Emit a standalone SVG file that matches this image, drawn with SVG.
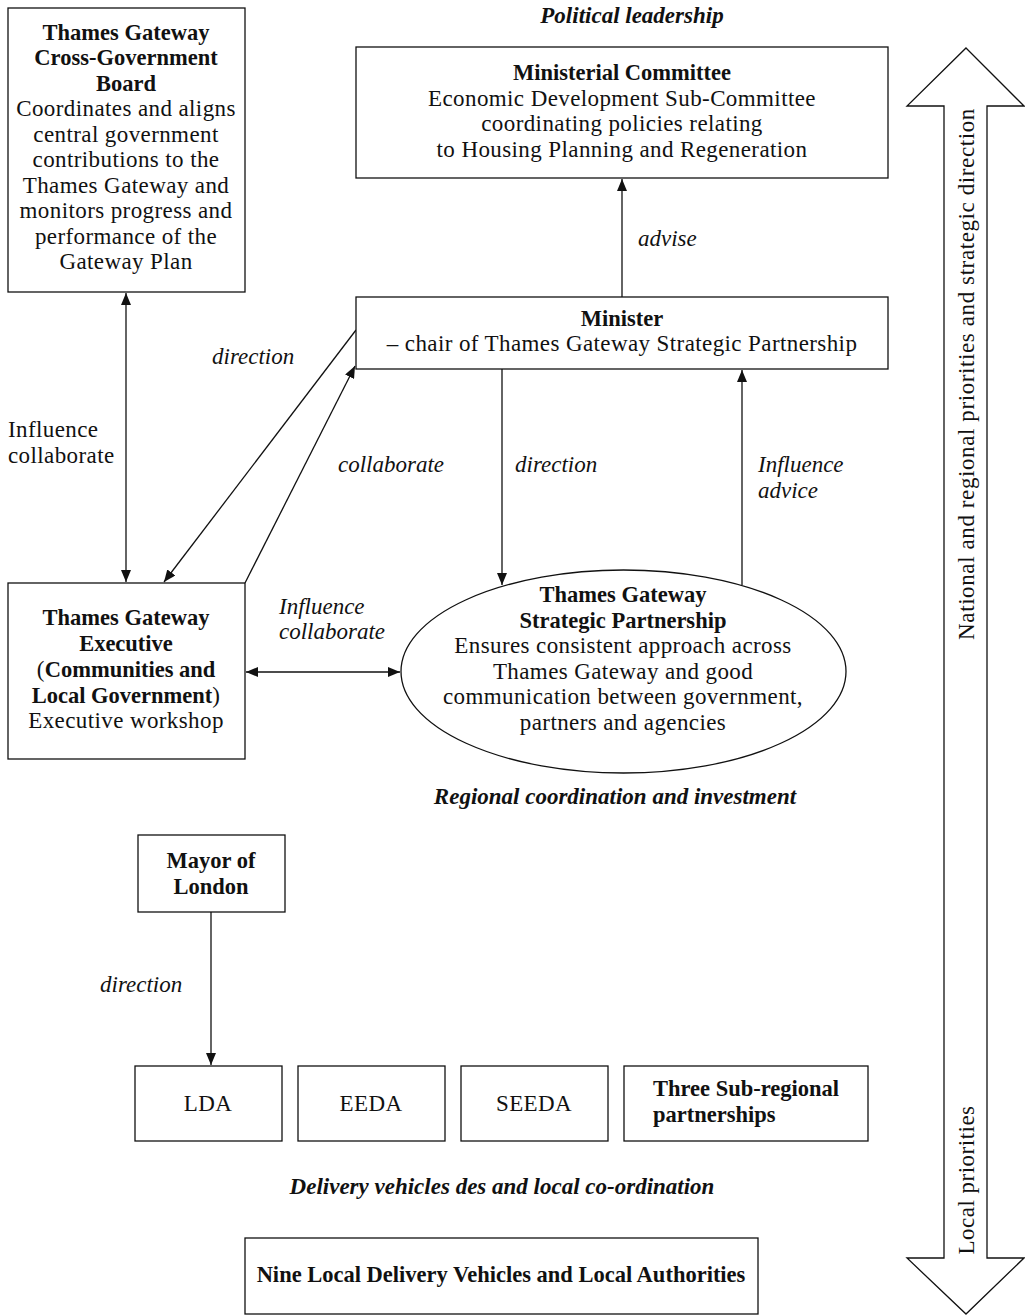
<svg xmlns="http://www.w3.org/2000/svg" width="1025" height="1315" viewBox="0 0 1025 1315">
<style>
text{font-family:"Liberation Serif","Times New Roman",serif;font-size:23px;letter-spacing:0.4px;fill:#111;}
.c{text-anchor:middle;}
.b{font-weight:bold;font-size:22.5px;letter-spacing:0;}
.i{font-style:italic;letter-spacing:0;}
.bi{font-weight:bold;font-style:italic;letter-spacing:0;}
.box{fill:#fff;stroke:#111;stroke-width:1.3;}
.ln{fill:none;stroke:#111;stroke-width:1.3;}
</style>
<defs>
<marker id="ah" viewBox="0 0 12 10" refX="12" refY="5" markerWidth="12" markerHeight="10" markerUnits="userSpaceOnUse" orient="auto-start-reverse">
<path d="M0,0 L12,5 L0,10 z" fill="#111"/>
</marker>
</defs>
<rect width="1025" height="1315" fill="#fff"/>

<g id="connectors">
<line class="ln" x1="622" y1="297" x2="622" y2="179" marker-end="url(#ah)"/>
<line class="ln" x1="126" y1="293" x2="126" y2="582" marker-start="url(#ah)" marker-end="url(#ah)"/>
<line class="ln" x1="356" y1="330" x2="164" y2="582" marker-end="url(#ah)"/>
<line class="ln" x1="245" y1="583" x2="355" y2="366" marker-end="url(#ah)"/>
<line class="ln" x1="502" y1="369" x2="502" y2="585" marker-end="url(#ah)"/>
<line class="ln" x1="742" y1="585" x2="742" y2="370" marker-end="url(#ah)"/>
<line class="ln" x1="246" y1="672" x2="400" y2="672" marker-start="url(#ah)" marker-end="url(#ah)"/>
<line class="ln" x1="211" y1="912" x2="211" y2="1065" marker-end="url(#ah)"/>
<text class="i" x="638" y="246">advise</text>
<text x="8" y="437">Influence</text>
<text x="8" y="463">collaborate</text>
<text class="i" x="212" y="364">direction</text>
<text class="i" x="338" y="472">collaborate</text>
<text class="i" x="515" y="472">direction</text>
<text class="i" x="758" y="472">Influence</text>
<text class="i" x="758" y="498">advice</text>
<text class="i" x="279" y="614">Influence</text>
<text class="i" x="279" y="639">collaborate</text>
<text class="i" x="100" y="992">direction</text>
</g>

<g id="labels">
<text class="c bi" x="632" y="23">Political leadership</text>
<text class="c bi" x="615" y="804">Regional coordination and investment</text>
<text class="c bi" x="502" y="1194">Delivery vehicles des and local co-ordination</text>
</g>

<g id="board">
<rect class="box" x="8" y="8" width="237" height="284"/>
<text class="c b" x="126" y="40">Thames Gateway</text>
<text class="c b" x="126" y="65">Cross-Government</text>
<text class="c b" x="126" y="91">Board</text>
<text class="c" x="126" y="116">Coordinates and aligns</text>
<text class="c" x="126" y="142">central government</text>
<text class="c" x="126" y="167">contributions to the</text>
<text class="c" x="126" y="193">Thames Gateway and</text>
<text class="c" x="126" y="218">monitors progress and</text>
<text class="c" x="126" y="244">performance of the</text>
<text class="c" x="126" y="269">Gateway Plan</text>
</g>

<g id="ministerial-committee">
<rect class="box" x="356" y="47" width="532" height="131"/>
<text class="c b" x="622" y="80">Ministerial Committee</text>
<text class="c" x="622" y="106">Economic Development Sub-Committee</text>
<text class="c" x="622" y="131">coordinating policies relating</text>
<text class="c" x="622" y="157">to Housing Planning and Regeneration</text>
</g>

<g id="minister">
<rect class="box" x="356" y="297" width="532" height="72"/>
<text class="c b" x="622" y="326">Minister</text>
<text class="c" x="622" y="351">– chair of Thames Gateway Strategic Partnership</text>
</g>

<g id="executive">
<rect class="box" x="8" y="583" width="237" height="176"/>
<text class="c b" x="126" y="625">Thames Gateway</text>
<text class="c b" x="126" y="651">Executive</text>
<text class="c" x="126" y="677">(<tspan class="b">Communities and</tspan></text>
<text class="c" x="126" y="703"><tspan class="b">Local Government</tspan>)</text>
<text class="c" x="126" y="728">Executive workshop</text>
</g>

<g id="partnership">
<ellipse class="box" cx="623.5" cy="671.5" rx="222.5" ry="101.5"/>
<text class="c b" x="623" y="602">Thames Gateway</text>
<text class="c b" x="623" y="628">Strategic Partnership</text>
<text class="c" x="623" y="653">Ensures consistent approach across</text>
<text class="c" x="623" y="679">Thames Gateway and good</text>
<text class="c" x="623" y="704">communication between government,</text>
<text class="c" x="623" y="730">partners and agencies</text>
</g>

<g id="mayor">
<rect class="box" x="138" y="835" width="147" height="77"/>
<text class="c b" x="211" y="868">Mayor of</text>
<text class="c b" x="211" y="894">London</text>
</g>

<g id="lda">
<rect class="box" x="135" y="1066" width="147" height="75"/>
<text class="c" x="208" y="1111">LDA</text>
</g>
<g id="eeda">
<rect class="box" x="298" y="1066" width="147" height="75"/>
<text class="c" x="371" y="1111">EEDA</text>
</g>
<g id="seeda">
<rect class="box" x="461" y="1066" width="147" height="75"/>
<text class="c" x="534" y="1111">SEEDA</text>
</g>
<g id="subregional">
<rect class="box" x="624" y="1066" width="244" height="75"/>
<text class="b" x="653" y="1096">Three Sub-regional</text>
<text class="b" x="653" y="1122">partnerships</text>
</g>

<g id="nine-local">
<rect class="box" x="245" y="1238" width="513" height="76"/>
<text class="c b" x="501" y="1282">Nine Local Delivery Vehicles and Local Authorities</text>
</g>

<g id="priorities-arrow">
<path class="box" d="M966,48 L1024,106 L987,106 L987,1258 L1024,1258 L966,1314 L907,1258 L944,1258 L944,106 L907,106 Z"/>
<text class="c" style="letter-spacing:0.6px" transform="translate(974,374) rotate(-90)">National and regional priorities and strategic direction</text>
<text class="c" style="letter-spacing:0.5px" transform="translate(974,1180) rotate(-90)">Local priorities</text>
</g>
</svg>
